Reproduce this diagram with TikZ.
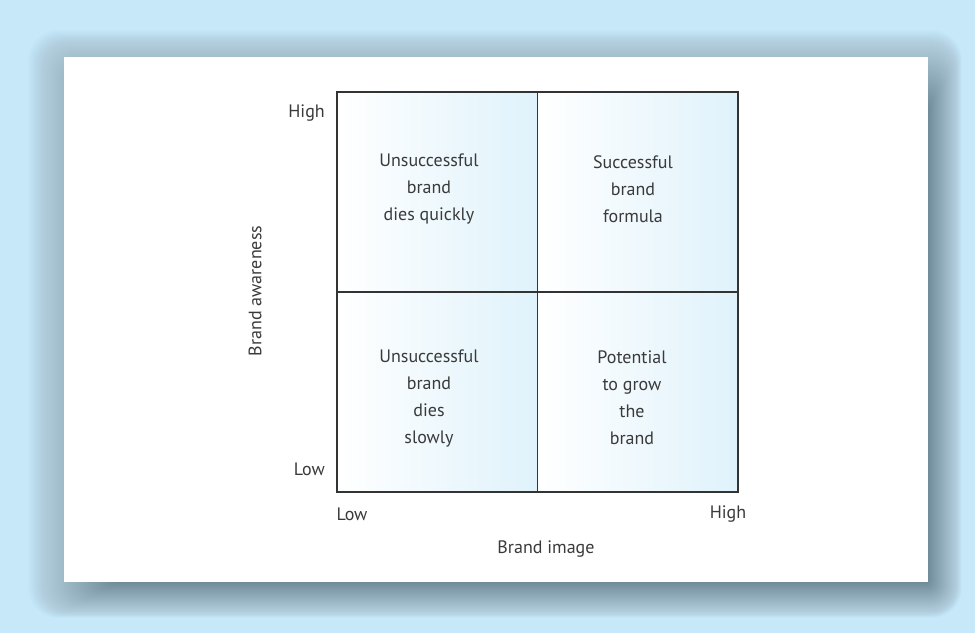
\documentclass[tikz,border=0pt]{standalone}
\usepackage{fontspec}
\setmainfont{PT Sans}
\usetikzlibrary{shadings}
\definecolor{bgblue}{HTML}{C6E8F9}
\definecolor{shadowc}{HTML}{3C505A}
\definecolor{cellblue}{HTML}{DFF2FB}
\definecolor{txt}{HTML}{3A3A3A}
\definecolor{gridc}{HTML}{333333}
\tikzset{
  cell/.style={draw=gridc, line width=1.4pt, minimum width=200.5pt, minimum height=200pt,
    inner sep=0pt, outer sep=0pt, left color=white, right color=cellblue},
  celltext/.style={align=center, text=txt, font=\fontsize{18}{27}\selectfont},
  axlabel/.style={text=txt, font=\fontsize{18}{22}\selectfont, inner sep=0pt},
}
\begin{document}
\begin{tikzpicture}[x=1pt, y=-1pt]
\useasboundingbox (0,0) rectangle (975,633);
\fill[bgblue] (0,0) rectangle (975,633);
% soft shadow around the panel
\foreach \i in {0,...,79}{
  \fill[shadowc, opacity=0.008, rounded corners={max(2,30-0.35*\i)}]
    ({28+1.09*\i},{30+0.96*\i}) rectangle ({962-0.425*\i},{618-0.45*\i});
}
\fill[white] (64,57) rectangle (928,582);
% cells
\node[cell] (c11) at (437.25,192) {};
\node[cell] (c12) at (637.75,192) {};
\node[cell] (c21) at (437.25,392) {};
\node[cell] (c22) at (637.75,392) {};
\draw[gridc, line width=1.4pt] (c11.north west) rectangle (c22.south east);
% cell texts
\node[celltext] (t11) at (429,189) {Unsuccessful\\brand\\dies quickly};
\node[celltext] (t12) at (633,189) {Successful\\brand\\formula};
\node[celltext] (t21) at (429,398) {Unsuccessful\\brand\\dies\\slowly};
\node[celltext] (t22) at (632,398) {Potential\\to grow\\the\\brand};
% axis labels
\node[axlabel, anchor=east] (yhigh) at (325,113) {High};
\node[axlabel, anchor=east] (ylow) at (325,469) {Low};
\node[axlabel] (xlow) at (352,514) {Low};
\node[axlabel] (xhigh) at (728,514) {High};
\node[axlabel] (xtitle) at (546,549) {Brand image};
\node[axlabel, rotate=90] (ytitle) at (255,291) {Brand awareness};
\end{tikzpicture}
\end{document}
